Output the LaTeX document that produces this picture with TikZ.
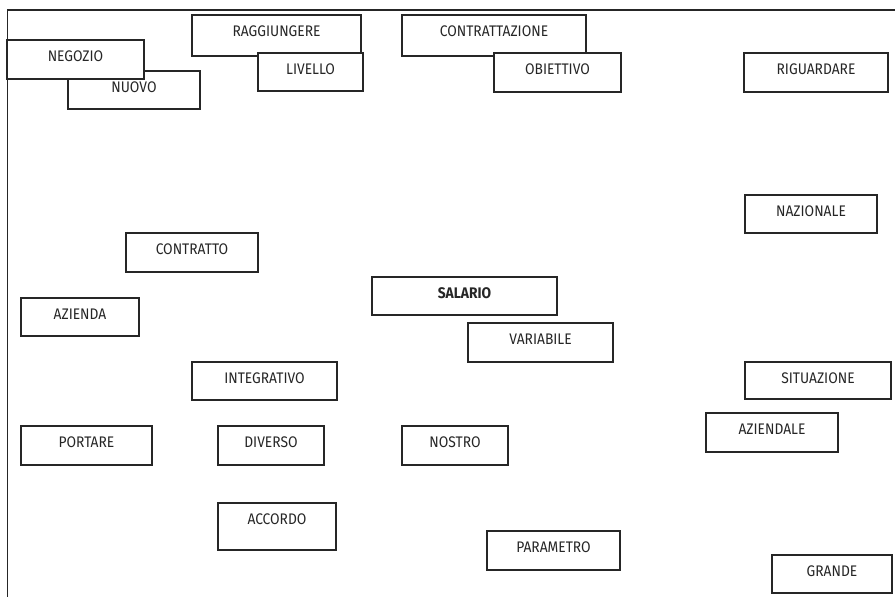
\documentclass[tikz,border=0pt]{standalone}
\usepackage{fontspec}
\setmainfont{Fira Sans}[FakeStretch=0.9]
\begin{document}
\begin{tikzpicture}[x=0.75pt,y=-0.75pt,
  box/.style={draw=black!85, fill=white, line width=1.1pt, rectangle, inner sep=0pt, outer sep=0pt, anchor=north west},
  lab/.style={anchor=center, yshift=-12pt, inner sep=0pt, font=\fontsize{11.5}{13}\selectfont, text=black!85},
  frame/.style={line width=1.1pt, draw=black!85}]
% word box: name, left, top, right, bottom, word
\newcommand\wordbox[6]{%
  \node[box, minimum width={(#4-#2)*0.75pt}, minimum height={(#5-#3)*0.75pt},
        label={[lab]north:#6}] (#1) at (#2,#3) {};}
\useasboundingbox (0,0) rectangle (895,596);
% open frame: top and left edges
\coordinate (ftop) at (895,10);
\coordinate (fcorner) at (7.5,10);
\coordinate (fbottom) at (7.5,600);
\draw[frame] (ftop) -- (fcorner) -- (fbottom);
% upper row (later boxes cover earlier ones)
\wordbox{nuovo}{68}{71}{200}{109}{NUOVO}
\wordbox{negozio}{7}{40}{144}{79}{NEGOZIO}
\wordbox{raggiungere}{192}{15}{361}{56}{RAGGIUNGERE}
\wordbox{livello}{258}{53}{363}{91}{LIVELLO}
\wordbox{contrattazione}{402}{15}{586}{56}{CONTRATTAZIONE}
\wordbox{obiettivo}{494}{53}{621}{92}{OBIETTIVO}
\wordbox{riguardare}{744}{53}{888}{92}{RIGUARDARE}
% middle
\wordbox{nazionale}{745}{195}{877}{233}{NAZIONALE}
\wordbox{contratto}{126}{233}{258}{272}{CONTRATTO}
\wordbox{azienda}{21}{298}{139}{336}{AZIENDA}
\wordbox{salario}{372}{277}{557}{315}{\bfseries SALARIO}
\wordbox{variabile}{468}{323}{613}{362}{VARIABILE}
\wordbox{integrativo}{192}{362}{337}{400}{INTEGRATIVO}
\wordbox{situazione}{745}{362}{891}{399}{SITUAZIONE}
\wordbox{aziendale}{706}{413}{838}{452}{AZIENDALE}
% lower rows
\wordbox{portare}{21}{426}{152}{465}{PORTARE}
\wordbox{diverso}{218}{426}{324}{465}{DIVERSO}
\wordbox{nostro}{402}{426}{508}{465}{NOSTRO}
\wordbox{accordo}{218}{503}{336}{550}{ACCORDO}
\wordbox{parametro}{487}{531}{620}{570}{PARAMETRO}
\wordbox{grande}{772}{555}{892}{593}{GRANDE}
\end{tikzpicture}
\end{document}
